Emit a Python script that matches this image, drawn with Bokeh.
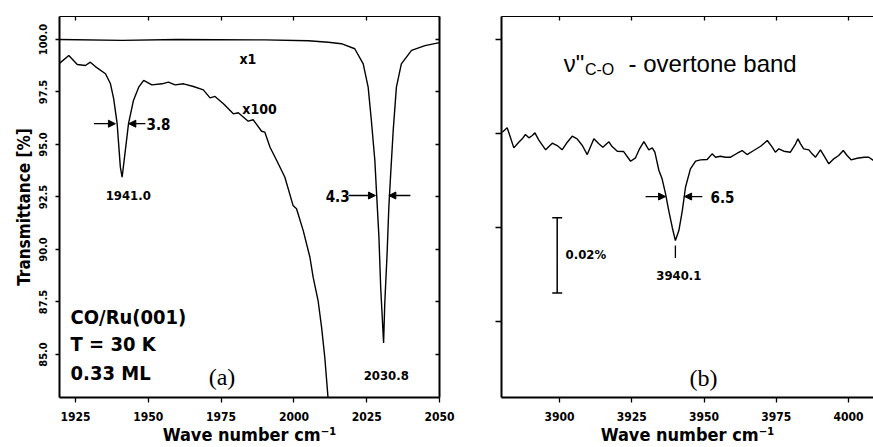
import math
from bokeh.plotting import figure
from bokeh.layouts import row
from bokeh.models import (Range1d, LinearAxis, FixedTicker, PrintfTickFormatter, Arrow,
                          NormalHead, Label, Whisker, TeeHead, ColumnDataSource)
from bokeh.embed import file_html
from bokeh.resources import INLINE

NARROW = "DejaVu Sans Condensed"
SANS = "Liberation Sans"
SERIF = "Liberation Serif"

# ---------------- Panel (a) data ----------------
A_XTICKS = [1925, 1950, 1975, 2000, 2025, 2050]
A_YTICKS = [85.0, 87.5, 90.0, 92.5, 95.0, 97.5, 100.0]

X1_WN = [1919.5, 1941.0, 1960.0, 1990.0, 2005.0, 2011.8, 2016.3, 2020.9, 2023.8, 2025.5,
         2026.6, 2027.8, 2028.4, 2029.2, 2029.8, 2030.8, 2031.2, 2032.0, 2032.6, 2033.3,
         2034.1, 2035.2, 2036.9, 2040.4, 2045.0, 2050.0]
X1_T = [100.0, 99.96, 100.0, 99.98, 99.94, 99.87, 99.80, 99.56, 98.84, 97.73,
        96.14, 94.24, 92.65, 90.59, 88.20, 85.55, 87.41, 89.80, 92.01, 93.76,
        95.67, 97.73, 98.84, 99.48, 99.71, 99.85]

X100_WN = [1919.3, 1922.7, 1925.6, 1928.4, 1930.1, 1931.8, 1935.3, 1937.0, 1938.1, 1939.3,
           1940.4, 1941.0, 1942.1, 1943.2, 1944.9, 1946.7, 1948.4, 1951.2, 1954.7, 1956.9,
           1959.2, 1962.1, 1965.5, 1968.9, 1971.2, 1972.9, 1975.8, 1979.2, 1980.9, 1984.3,
           1986.0, 1988.9, 1990.0, 1991.8, 1994.1, 1996.9, 1999.7, 2000.9, 2003.2, 2005.5,
           2006.6, 2008.3, 2009.5, 2010.6, 2011.7, 2012.3]
X100_T = [98.84, 99.24, 98.81, 98.76, 98.92, 98.71, 98.37, 97.89, 97.18, 95.99,
          93.92, 93.44, 94.71, 95.99, 97.10, 97.73, 98.05, 97.84, 97.89, 97.97,
          97.84, 97.89, 97.76, 97.60, 97.22, 97.29, 96.94, 96.46, 96.51, 96.11,
          96.18, 95.63, 95.59, 94.87, 94.24, 93.44, 92.10, 91.94, 90.90, 89.63,
          88.68, 87.57, 86.30, 84.87, 82.97, 81.90]

A_PEAK_TEXT = ["1941.0", "2030.8"]
A_PEAK_X = [1943.1, 2031.7]
A_PEAK_Y = [92.55, 84.02]
A_FWHM_TEXT = ["3.8", "4.3"]
A_FWHM_TX = [1953.5, 2015.0]
A_FWHM_Y = [95.99, 92.57]
A_FWHM_L = [(1931.3, 1938.7), (2018.75, 2028.0)]
A_FWHM_R = [(1949.0, 1943.3), (2040.0, 2032.6)]
A_SCALE_TEXT = ["x1", "x100"]
A_SCALE_X = [1984.2, 1988.2]
A_SCALE_Y = [99.05, 96.7]
A_INFO = ["CO/Ru(001)", "T = 30 K", "0.33 ML"]
A_INFO_Y = [86.78, 85.52, 84.12]

# ---------------- Panel (b) data ----------------
B_XTICKS = [3900, 3925, 3950, 3975, 4000]
B_YTICKS = [0.0, -0.025, -0.050, -0.075]

B_WN = [3880.2, 3881.9, 3883.0, 3884.2, 3885.9, 3887.1, 3888.2, 3889.4, 3890.6, 3891.5,
        3892.8, 3895.2, 3897.5, 3899.2, 3900.9, 3902.7, 3904.4, 3906.1, 3907.9, 3909.6,
        3911.9, 3913.6, 3915.0, 3917.1, 3918.2, 3920.0, 3922.2, 3924.6, 3926.3, 3927.7,
        3929.2, 3930.9, 3932.1, 3933.0, 3934.4, 3935.5, 3936.7, 3937.8, 3939.0, 3940.1,
        3941.3, 3942.5, 3943.6, 3945.3, 3947.1, 3948.8, 3951.1, 3952.8, 3954.0, 3955.7,
        3957.4, 3959.2, 3961.5, 3963.2, 3964.9, 3967.2, 3969.6, 3971.9, 3973.6, 3974.7,
        3975.9, 3977.6, 3979.9, 3981.7, 3982.5, 3983.4, 3984.5, 3986.3, 3987.4, 3988.6,
        3990.3, 3991.5, 3993.2, 3994.9, 3996.6, 3998.2, 3999.5, 4000.9, 4003.0, 4005.4,
        4007.0, 4008.7]
B_DT = [-0.02465, -0.02349, -0.02598, -0.02881, -0.02731, -0.02641, -0.02527, -0.02614, -0.02553, -0.02481,
        -0.02668, -0.02934, -0.02758, -0.02819, -0.02934, -0.02731, -0.02572, -0.02641, -0.02819, -0.03059,
        -0.02641, -0.02774, -0.02864, -0.02721, -0.02846, -0.02971, -0.02979, -0.03237, -0.03146, -0.02907,
        -0.02713, -0.02934, -0.02881, -0.02997, -0.03484, -0.03705, -0.04104, -0.04548, -0.04992, -0.05346,
        -0.05080, -0.04548, -0.03928, -0.03440, -0.03236, -0.03200, -0.03191, -0.03041, -0.03130, -0.03103,
        -0.03130, -0.03130, -0.03024, -0.02952, -0.03059, -0.02952, -0.02838, -0.02686, -0.02864, -0.02997,
        -0.02907, -0.02971, -0.02997, -0.02774, -0.02641, -0.02774, -0.02907, -0.02934, -0.03041, -0.03130,
        -0.02934, -0.03085, -0.03306, -0.03173, -0.03085, -0.02952, -0.03085, -0.03200, -0.03157, -0.03130,
        -0.03130, -0.03218]

B_PEAK_TEXT = "3940.1"
B_PEAK_X = 3940.1
B_PEAK_TICK = (-0.0548, -0.0581)
B_PEAK_LABEL = (3941.3, -0.06277)
B_FWHM_TEXT = "6.5"
B_FWHM_Y = -0.04176
B_FWHM_L = (3929.8, 3936.7)
B_FWHM_R = (3949.4, 3943.3)
B_FWHM_TX = 3956.4
B_BAR_X = [3899.2]
B_BAR_TOP = [-0.0474]
B_BAR_LEN = 0.02
B_BAR_TEXT = "0.02%"


def blank(ax, ticks):
    ax.major_label_overrides = {t: "" for t in ticks}
    ax.major_label_text_font_size = "0px"
    ax.major_label_standoff = 0


def base_axis(ax, ticks, lw):
    ax.ticker = FixedTicker(ticks=ticks)
    ax.minor_tick_in = 0
    ax.minor_tick_out = 0
    ax.axis_line_width = lw
    ax.axis_line_color = "black"
    ax.major_tick_line_color = "black"
    ax.major_tick_line_width = 1.3


def bottom_axis(p, ticks):
    ax = LinearAxis()
    base_axis(ax, ticks, 2)
    ax.major_tick_out = 5
    ax.major_tick_in = 0
    ax.major_label_standoff = 9
    ax.major_label_text_font = NARROW
    ax.major_label_text_font_style = "bold"
    ax.major_label_text_font_size = "12px"
    ax.major_label_text_color = "black"
    ax.axis_label = "Wave number cm\u207b\u00b9"
    ax.axis_label_text_font = NARROW
    ax.axis_label_text_font_style = "bold"
    ax.axis_label_text_font_size = "18px"
    ax.axis_label_text_color = "black"
    ax.axis_label_standoff = 0
    p.add_layout(ax, "below")


def top_axis(p, ticks):
    ax = LinearAxis()
    base_axis(ax, ticks, 1)
    ax.major_tick_in = 4
    ax.major_tick_out = 0
    blank(ax, ticks)
    p.add_layout(ax, "above")


# ---------------- figure (a) ----------------
pa = figure(frame_width=380, frame_height=381, x_range=Range1d(1919.5, 2050.0),
            y_range=Range1d(82.952, 101.095), x_axis_type=None, y_axis_type=None,
            output_backend="svg", toolbar_location=None,
            min_border_left=59, min_border_right=31, min_border_top=16, min_border_bottom=50,
            outline_line_color=None)

bottom_axis(pa, A_XTICKS)
top_axis(pa, A_XTICKS)

la = LinearAxis()
base_axis(la, A_YTICKS, 2)
la.major_tick_out = 4
la.major_tick_in = 0
la.formatter = PrintfTickFormatter(format="%.1f")
la.major_label_orientation = "vertical"
la.major_label_standoff = 8
la.major_label_text_font = NARROW
la.major_label_text_font_style = "bold"
la.major_label_text_font_size = "11px"
la.major_label_text_color = "black"
la.axis_label = "Transmittance [%]"
la.axis_label_text_font = NARROW
la.axis_label_text_font_style = "bold"
la.axis_label_text_font_size = "17px"
la.axis_label_text_color = "black"
la.axis_label_standoff = 3
pa.add_layout(la, "left")

ra = LinearAxis()
base_axis(ra, A_YTICKS, 2)
ra.major_tick_in = 4
ra.major_tick_out = 0
blank(ra, A_YTICKS)
pa.add_layout(ra, "right")

pa.line(X1_WN, X1_T, line_color="black", line_width=1.4)
pa.line(X100_WN, X100_T, line_color="black", line_width=1.4)

for txt, x, y in zip(A_PEAK_TEXT, A_PEAK_X, A_PEAK_Y):
    pa.add_layout(Label(x=x, y=y, text=txt, text_align="center", text_baseline="middle",
                        text_font=NARROW, text_font_style="bold", text_font_size="13px",
                        text_color="black"))
for txt, tx, y, (l0, l1), (r0, r1) in zip(A_FWHM_TEXT, A_FWHM_TX, A_FWHM_Y, A_FWHM_L, A_FWHM_R):
    pa.add_layout(Arrow(end=NormalHead(size=7, fill_color="black", line_color="black"),
                        x_start=l0, y_start=y, x_end=l1, y_end=y, line_width=1.3))
    pa.add_layout(Arrow(end=NormalHead(size=7, fill_color="black", line_color="black"),
                        x_start=r0, y_start=y, x_end=r1, y_end=y, line_width=1.3))
    pa.add_layout(Label(x=tx, y=y, text=txt, text_align="center", text_baseline="middle",
                        text_font=NARROW, text_font_style="bold", text_font_size="15px",
                        text_color="black"))
for txt, x, y in zip(A_SCALE_TEXT, A_SCALE_X, A_SCALE_Y):
    pa.add_layout(Label(x=x, y=y, text=txt, text_align="center", text_baseline="middle",
                        text_font=NARROW, text_font_style="bold", text_font_size="14px",
                        text_color="black"))
for txt, y in zip(A_INFO, A_INFO_Y):
    pa.add_layout(Label(x=1923.3, y=y, text=txt, text_align="left", text_baseline="middle",
                        text_font=NARROW, text_font_style="bold", text_font_size="20px",
                        text_color="black"))
pa.add_layout(Label(x=1975.3, y=83.95, text="(a)", text_align="center", text_baseline="middle",
                    text_font=SERIF, text_font_size="24px", text_color="black"))

# ---------------- figure (b) ----------------
pb = figure(frame_width=372, frame_height=381, x_range=Range1d(3879.93, 4008.65),
            y_range=Range1d(-0.0952, 0.00612), x_axis_type=None, y_axis_type=None,
            output_backend="svg", toolbar_location=None,
            min_border_left=31, min_border_right=0, min_border_top=16, min_border_bottom=50,
            outline_line_color=None)

bottom_axis(pb, B_XTICKS)
top_axis(pb, B_XTICKS)

lb = LinearAxis()
base_axis(lb, B_YTICKS, 2)
lb.major_tick_out = 6
lb.major_tick_in = 0
blank(lb, B_YTICKS)
pb.add_layout(lb, "left")

pb.line(B_WN, B_DT, line_color="black", line_width=1.4)

pb.segment(x0=[B_PEAK_X], y0=[B_PEAK_TICK[0]], x1=[B_PEAK_X], y1=[B_PEAK_TICK[1]],
           line_color="black", line_width=1.3)
pb.add_layout(Label(x=B_PEAK_LABEL[0], y=B_PEAK_LABEL[1], text=B_PEAK_TEXT, text_align="center",
                    text_baseline="middle", text_font=NARROW, text_font_style="bold",
                    text_font_size="13px", text_color="black"))
pb.add_layout(Arrow(end=NormalHead(size=7, fill_color="black", line_color="black"),
                    x_start=B_FWHM_L[0], y_start=B_FWHM_Y, x_end=B_FWHM_L[1], y_end=B_FWHM_Y,
                    line_width=1.3))
pb.add_layout(Arrow(end=NormalHead(size=7, fill_color="black", line_color="black"),
                    x_start=B_FWHM_R[0], y_start=B_FWHM_Y, x_end=B_FWHM_R[1], y_end=B_FWHM_Y,
                    line_width=1.3))
pb.add_layout(Label(x=B_FWHM_TX, y=B_FWHM_Y, text=B_FWHM_TEXT, text_align="center",
                    text_baseline="middle", text_font=NARROW, text_font_style="bold",
                    text_font_size="15px", text_color="black"))

bar_src = ColumnDataSource(dict(x=B_BAR_X, upper=B_BAR_TOP,
                                lower=[t - B_BAR_LEN for t in B_BAR_TOP]))
pb.add_layout(Whisker(source=bar_src, base="x", upper="upper", lower="lower", dimension="height",
                      line_color="black", line_width=1.5,
                      upper_head=TeeHead(size=10, line_color="black", line_width=1.5),
                      lower_head=TeeHead(size=10, line_color="black", line_width=1.5)))
pb.add_layout(Label(x=3902.1, y=-0.0572, text=B_BAR_TEXT, text_align="left",
                    text_baseline="middle", text_font=NARROW, text_font_style="bold",
                    text_font_size="13px", text_color="black"))

pb.add_layout(Label(x=3901.5, y=-0.0063, text="\u03bd\"", text_align="left",
                    text_baseline="alphabetic", text_font=SANS, text_font_size="24px",
                    text_color="black"))
pb.add_layout(Label(x=3908.8, y=-0.0080, text="C-O", text_align="left",
                    text_baseline="alphabetic", text_font=SANS, text_font_size="16px",
                    text_color="black"))
pb.add_layout(Label(x=3923.9, y=-0.0063, text="- overtone band", text_align="left",
                    text_baseline="alphabetic", text_font=SANS, text_font_size="24px",
                    text_color="black"))
pb.add_layout(Label(x=3949.8, y=-0.0899, text="(b)", text_align="center", text_baseline="middle",
                    text_font=SERIF, text_font_size="24px", text_color="black"))

layout = row(pa, pb)
open("out.html", "w").write(file_html(layout, INLINE))
